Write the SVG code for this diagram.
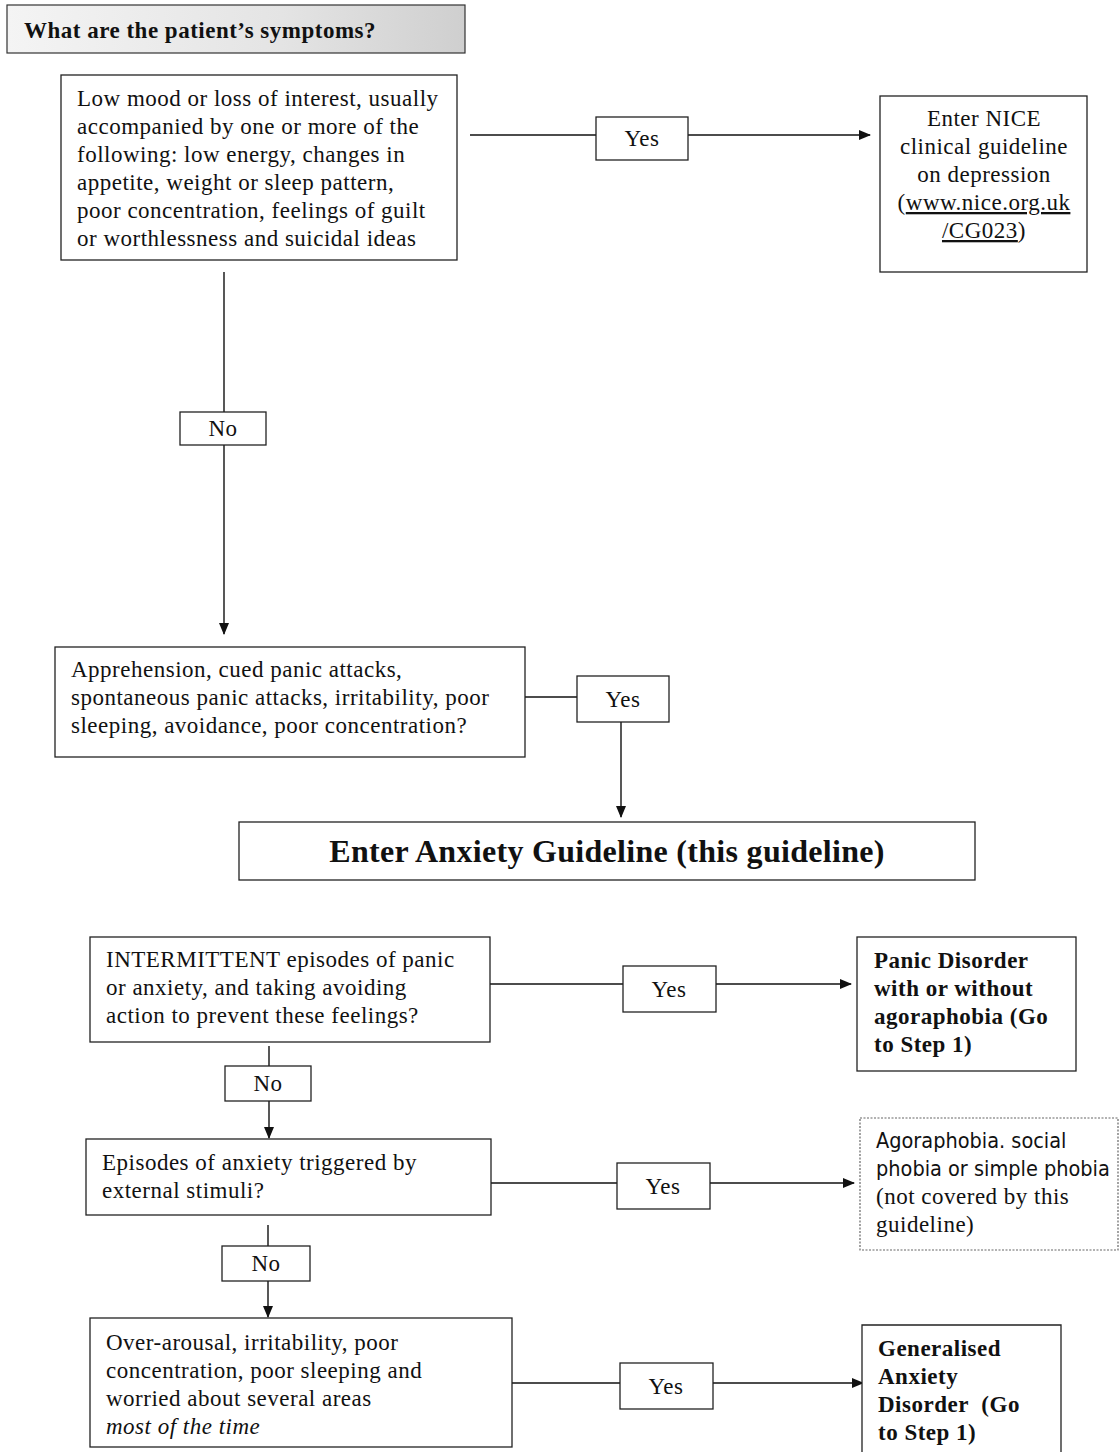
<svg xmlns="http://www.w3.org/2000/svg" width="1120" height="1452" viewBox="0 0 1120 1452">
<style>
.box{fill:#fff;stroke:#222;stroke-width:1.3}
.dot{fill:#fff;stroke:#666;stroke-width:1.2;stroke-dasharray:2 1.5}
.t{font-family:"Liberation Serif","Times New Roman",serif;font-size:23px;letter-spacing:0.5px;fill:#111}
.b{font-weight:bold}
.c{text-anchor:middle}
.hw{font-family:"DejaVu Sans Condensed","DejaVu Sans",sans-serif;font-size:21.5px;fill:#111}
.ln{stroke:#111;stroke-width:1.4;fill:none}
</style>
<defs>
<marker id="ah" markerWidth="12" markerHeight="10" refX="11" refY="5" orient="auto" markerUnits="userSpaceOnUse">
<path d="M0,0 L12,5 L0,10 Z" fill="#111"/>
</marker>
<linearGradient id="tg" x1="0" y1="0" x2="1" y2="0">
<stop offset="0" stop-color="#f4f4f4"/>
<stop offset="0.6" stop-color="#e4e4e4"/>
<stop offset="1" stop-color="#cfcfcf"/>
</linearGradient>
</defs>
<rect width="1120" height="1452" fill="#fff"/>

<g id="connectors">
<line class="ln" x1="470" y1="135" x2="596" y2="135"/>
<line class="ln" x1="688" y1="135" x2="870" y2="135" marker-end="url(#ah)"/>
<line class="ln" x1="224" y1="272" x2="224" y2="412"/>
<line class="ln" x1="224" y1="445" x2="224" y2="634" marker-end="url(#ah)"/>
<line class="ln" x1="511" y1="697" x2="577" y2="697"/>
<line class="ln" x1="621" y1="722" x2="621" y2="817" marker-end="url(#ah)"/>
<line class="ln" x1="490" y1="984" x2="623" y2="984"/>
<line class="ln" x1="716" y1="984" x2="851" y2="984" marker-end="url(#ah)"/>
<line class="ln" x1="269" y1="1046" x2="269" y2="1066"/>
<line class="ln" x1="269" y1="1101" x2="269" y2="1138" marker-end="url(#ah)"/>
<line class="ln" x1="491" y1="1183" x2="617" y2="1183"/>
<line class="ln" x1="710" y1="1183" x2="854" y2="1183" marker-end="url(#ah)"/>
<line class="ln" x1="268" y1="1225" x2="268" y2="1246"/>
<line class="ln" x1="268" y1="1281" x2="268" y2="1317" marker-end="url(#ah)"/>
<line class="ln" x1="512" y1="1383" x2="620" y2="1383"/>
<line class="ln" x1="713" y1="1383" x2="863" y2="1383" marker-end="url(#ah)"/>
</g>

<g id="title">
<rect x="7" y="5" width="458" height="48" fill="url(#tg)" stroke="#333" stroke-width="1.2"/>
<text x="24" y="38" class="t b">What are the patient’s symptoms?</text>
</g>

<g id="q1">
<rect class="box" x="61" y="75" width="396" height="185"/>
<text class="t" x="77" y="106">Low mood or loss of interest, usually</text>
<text class="t" x="77" y="134">accompanied by one or more of the</text>
<text class="t" x="77" y="162">following: low energy, changes in</text>
<text class="t" x="77" y="190">appetite, weight or sleep pattern,</text>
<text class="t" x="77" y="218">poor concentration, feelings of guilt</text>
<text class="t" x="77" y="246">or worthlessness and suicidal ideas</text>
</g>

<g id="yes1">
<rect class="box" x="596" y="117" width="92" height="43"/>
<text class="t c" x="642" y="146">Yes</text>
</g>

<g id="nice">
<rect class="box" x="880" y="96" width="207" height="176"/>
<text class="t c" x="984" y="126">Enter NICE</text>
<text class="t c" x="984" y="154">clinical guideline</text>
<text class="t c" x="984" y="182">on depression</text>
<text class="t c" x="984" y="210">(<tspan text-decoration="underline">www.nice.org.uk</tspan></text>
<text class="t c" x="984" y="238"><tspan text-decoration="underline">/CG023</tspan>)</text>
</g>

<g id="no1">
<rect class="box" x="180" y="412" width="86" height="33"/>
<text class="t c" x="223" y="436">No</text>
</g>

<g id="q2">
<rect class="box" x="55" y="647" width="470" height="110"/>
<text class="t" x="71" y="677">Apprehension, cued panic attacks,</text>
<text class="t" x="71" y="705">spontaneous panic attacks, irritability, poor</text>
<text class="t" x="71" y="733">sleeping, avoidance, poor concentration?</text>
</g>

<g id="yes2">
<rect class="box" x="577" y="676" width="92" height="46"/>
<text class="t c" x="623" y="707">Yes</text>
</g>

<g id="anxiety">
<rect class="box" x="239" y="822" width="736" height="58"/>
<text class="t b c" x="607" y="862" style="font-size:32px;letter-spacing:0.3px">Enter Anxiety Guideline (this guideline)</text>
</g>

<g id="q3">
<rect class="box" x="90" y="937" width="400" height="105"/>
<text class="t" x="106" y="967">INTERMITTENT episodes of panic</text>
<text class="t" x="106" y="995">or anxiety, and taking avoiding</text>
<text class="t" x="106" y="1023">action to prevent these feelings?</text>
</g>

<g id="yes3">
<rect class="box" x="623" y="966" width="93" height="46"/>
<text class="t c" x="669" y="997">Yes</text>
</g>

<g id="panic">
<rect class="box" x="857" y="937" width="219" height="134"/>
<text class="t b" x="874" y="968">Panic Disorder</text>
<text class="t b" x="874" y="996">with or without</text>
<text class="t b" x="874" y="1024">agoraphobia (Go</text>
<text class="t b" x="874" y="1052">to Step 1)</text>
</g>

<g id="no2">
<rect class="box" x="225" y="1066" width="86" height="35"/>
<text class="t c" x="268" y="1091">No</text>
</g>

<g id="q4">
<rect class="box" x="86" y="1139" width="405" height="76"/>
<text class="t" x="102" y="1170">Episodes of anxiety triggered by</text>
<text class="t" x="102" y="1198">external stimuli?</text>
</g>

<g id="yes4">
<rect class="box" x="617" y="1163" width="93" height="46"/>
<text class="t c" x="663" y="1194">Yes</text>
</g>

<g id="phobia">
<rect class="dot" x="860" y="1118" width="258" height="132"/>
<text class="hw" x="876" y="1148">Agoraphobia. social</text>
<text class="hw" x="876" y="1176">phobia or simple phobia</text>
<text class="t" x="876" y="1204">(not covered by this</text>
<text class="t" x="876" y="1232">guideline)</text>
</g>

<g id="no3">
<rect class="box" x="222" y="1246" width="88" height="35"/>
<text class="t c" x="266" y="1271">No</text>
</g>

<g id="q5">
<rect class="box" x="90" y="1318" width="422" height="129"/>
<text class="t" x="106" y="1350">Over-arousal, irritability, poor</text>
<text class="t" x="106" y="1378">concentration, poor sleeping and</text>
<text class="t" x="106" y="1406">worried about several areas</text>
<text class="t" x="106" y="1434" font-style="italic">most of the time</text>
</g>

<g id="yes5">
<rect class="box" x="620" y="1363" width="93" height="46"/>
<text class="t c" x="666" y="1394">Yes</text>
</g>

<g id="gad">
<path d="M862,1452 V1325 H1061 V1452" class="box"/>
<text class="t b" x="878" y="1356">Generalised</text>
<text class="t b" x="878" y="1384">Anxiety</text>
<text class="t b" x="878" y="1412">Disorder&#160; (Go</text>
<text class="t b" x="878" y="1440">to Step 1)</text>
</g>
</svg>
